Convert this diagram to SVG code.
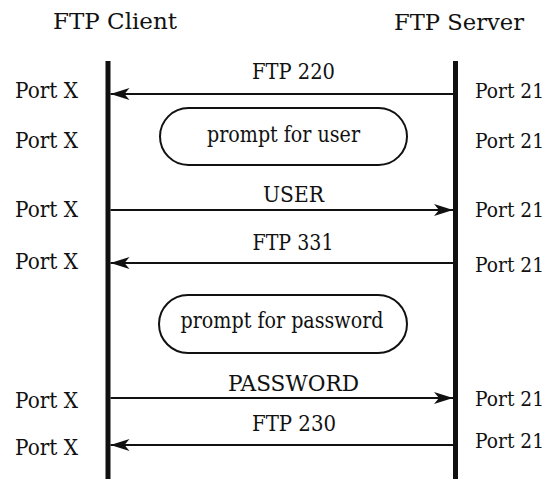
<svg xmlns="http://www.w3.org/2000/svg" width="552" height="479" viewBox="0 0 552 479">
<style>
text{font-family:"DejaVu Serif","Liberation Serif","Times New Roman",serif;fill:#111;font-size:22px}
.p21{font-size:19.5px}
.life{stroke:#111;stroke-width:5;fill:none}
.msg{stroke:#111;stroke-width:2;fill:none}
.box{stroke:#111;stroke-width:2;fill:#fff}
.c{text-anchor:middle}
</style>
<defs>
<marker id="ah" markerWidth="20" markerHeight="12" refX="19" refY="6" orient="auto" markerUnits="userSpaceOnUse">
<path d="M0,0 L19,6 L0,12 L5,6 Z" fill="#111"/>
</marker>
</defs>
<rect width="552" height="479" fill="#fff"/>
<g id="client">
<text x="53" y="29" textLength="124" lengthAdjust="spacingAndGlyphs">FTP Client</text>
<line class="life" x1="108" y1="61" x2="108" y2="479"/>
<text x="15" y="98" textLength="63" lengthAdjust="spacingAndGlyphs">Port X</text>
<text x="15" y="148" textLength="63" lengthAdjust="spacingAndGlyphs">Port X</text>
<text x="15" y="217" textLength="63" lengthAdjust="spacingAndGlyphs">Port X</text>
<text x="15" y="269" textLength="63" lengthAdjust="spacingAndGlyphs">Port X</text>
<text x="15" y="408" textLength="63" lengthAdjust="spacingAndGlyphs">Port X</text>
<text x="15" y="455" textLength="63" lengthAdjust="spacingAndGlyphs">Port X</text>
</g>
<g id="server">
<text x="394" y="30" textLength="130" lengthAdjust="spacingAndGlyphs">FTP Server</text>
<line class="life" x1="455.5" y1="61" x2="455.5" y2="479"/>
<text class="p21" x="475" y="98" textLength="69" lengthAdjust="spacingAndGlyphs">Port 21</text>
<text class="p21" x="475" y="148" textLength="69" lengthAdjust="spacingAndGlyphs">Port 21</text>
<text class="p21" x="475" y="217" textLength="69" lengthAdjust="spacingAndGlyphs">Port 21</text>
<text class="p21" x="475" y="272" textLength="69" lengthAdjust="spacingAndGlyphs">Port 21</text>
<text class="p21" x="475" y="406" textLength="69" lengthAdjust="spacingAndGlyphs">Port 21</text>
<text class="p21" x="475" y="448" textLength="69" lengthAdjust="spacingAndGlyphs">Port 21</text>
</g>
<g id="prompt-user">
<rect class="box" x="160" y="108" width="247" height="57" rx="28.5"/>
<text class="c" x="283.5" y="142" textLength="153" lengthAdjust="spacingAndGlyphs">prompt for user</text>
</g>
<g id="prompt-password">
<rect class="box" x="159" y="295" width="248" height="58" rx="29"/>
<text class="c" x="282" y="328" textLength="203" lengthAdjust="spacingAndGlyphs">prompt for password</text>
</g>
<g id="connectors">
<line class="msg" x1="453" y1="94" x2="110.5" y2="94" marker-end="url(#ah)"/>
<text class="c" x="293.5" y="79" textLength="83" lengthAdjust="spacingAndGlyphs">FTP 220</text>
<line class="msg" x1="110.5" y1="210" x2="453" y2="210" marker-end="url(#ah)"/>
<text class="c" x="293.5" y="202" textLength="61" lengthAdjust="spacingAndGlyphs">USER</text>
<line class="msg" x1="453" y1="263" x2="110.5" y2="263" marker-end="url(#ah)"/>
<text class="c" x="293" y="250" textLength="81" lengthAdjust="spacingAndGlyphs">FTP 331</text>
<line class="msg" x1="110.5" y1="398" x2="453" y2="398" marker-end="url(#ah)"/>
<text class="c" x="293.5" y="391" textLength="131" lengthAdjust="spacingAndGlyphs">PASSWORD</text>
<line class="msg" x1="453" y1="445" x2="110.5" y2="445" marker-end="url(#ah)"/>
<text class="c" x="294" y="431" textLength="84" lengthAdjust="spacingAndGlyphs">FTP 230</text>
</g>
</svg>
